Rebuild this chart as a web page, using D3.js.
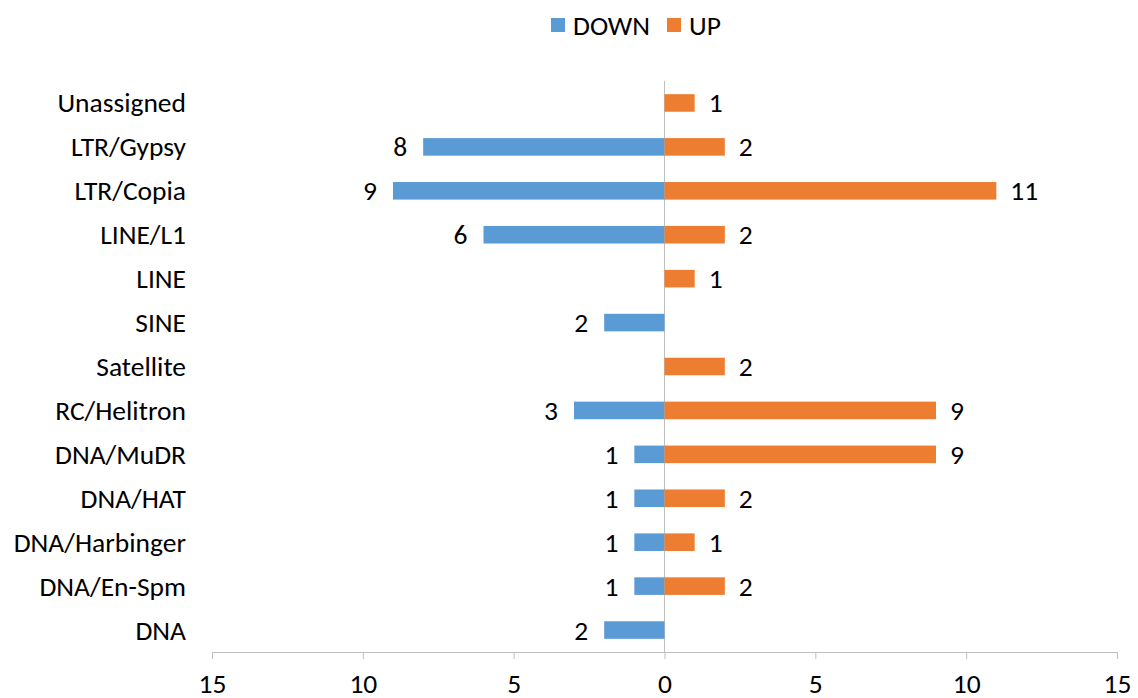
<!DOCTYPE html>
<html>
<head>
<meta charset="utf-8">
<script src="https://cdn.jsdelivr.net/npm/d3@7"></script>
<style>
  body { margin: 0; background: #fff; }
  text { font-family: Calibri, Carlito, Lato, "Noto Sans", sans-serif; fill: #000; }
</style>
</head>
<body>
<svg id="chart" width="1138" height="698"></svg>
<script>
// Repeat families, top to bottom
const categories = ["Unassigned", "LTR/Gypsy", "LTR/Copia", "LINE/L1", "LINE", "SINE",
  "Satellite", "RC/Helitron", "DNA/MuDR", "DNA/HAT", "DNA/Harbinger", "DNA/En-Spm", "DNA"];
// Counts per family (null = no bar)
const downValues = [null, 8, 9, 6, null, 2, null, 3, 1, 1, 1, 1, 2];
const upValues   = [1, 2, 11, 2, 1, null, 2, 9, 9, 2, 1, 2, null];
const seriesNames = ["DOWN", "UP"];
const xTicks = [-15, -10, -5, 0, 5, 10, 15];

const colors = { DOWN: "#5B9BD5", UP: "#ED7D31" };
const svg = d3.select("#chart");
const fontSize = 27.5;
const fontFamily = 'Calibri, Carlito, Lato, "Noto Sans", sans-serif';

const x = d3.scaleLinear().domain([-15, 15]).range([212, 1117]);
const y = d3.scaleBand().domain(categories).range([81, 652]).paddingInner(0.6).paddingOuter(0.3);

// Zero line
svg.append("line")
  .attr("x1", x(0)).attr("x2", x(0))
  .attr("y1", 81).attr("y2", 652)
  .attr("stroke", "#bfbfbf").attr("stroke-width", 1);

// Bottom axis
const axis = svg.append("g").attr("transform", "translate(0,652)")
  .call(d3.axisBottom(x).tickValues(xTicks).tickSize(7).tickFormat(d => Math.abs(d)));
axis.select(".domain").attr("stroke", "#bfbfbf");
axis.selectAll(".tick line").attr("stroke", "#bfbfbf");
axis.selectAll(".tick text").attr("font-size", fontSize).attr("y", 31).attr("dy", null)
  .attr("dominant-baseline", "central").style("font-family", fontFamily);

// Category labels
svg.append("g").selectAll("text").data(categories).join("text")
  .attr("x", 186).attr("y", d => y(d) + y.bandwidth() / 2)
  .attr("text-anchor", "end").attr("dominant-baseline", "central")
  .attr("font-size", fontSize).text(d => d);

const downData = categories.map((c, i) => ({ c, v: downValues[i] })).filter(d => d.v != null);
const upData = categories.map((c, i) => ({ c, v: upValues[i] })).filter(d => d.v != null);

// DOWN bars extend left of zero
svg.append("g").selectAll("rect").data(downData).join("rect")
  .attr("x", d => x(-d.v)).attr("width", d => x(0) - x(-d.v))
  .attr("y", d => y(d.c)).attr("height", y.bandwidth())
  .attr("fill", colors.DOWN);
svg.append("g").selectAll("text").data(downData).join("text")
  .attr("x", d => x(-d.v) - 16).attr("y", d => y(d.c) + y.bandwidth() / 2)
  .attr("text-anchor", "end").attr("dominant-baseline", "central")
  .attr("font-size", fontSize).text(d => d.v);

// UP bars extend right of zero
svg.append("g").selectAll("rect").data(upData).join("rect")
  .attr("x", x(0)).attr("width", d => x(d.v) - x(0))
  .attr("y", d => y(d.c)).attr("height", y.bandwidth())
  .attr("fill", colors.UP);
svg.append("g").selectAll("text").data(upData).join("text")
  .attr("x", d => x(d.v) + 14).attr("y", d => y(d.c) + y.bandwidth() / 2)
  .attr("text-anchor", "start").attr("dominant-baseline", "central")
  .attr("font-size", fontSize).text(d => d.v);

// Legend
const legendX = [551, 667];
const legend = svg.append("g").selectAll("g").data(seriesNames).join("g")
  .attr("transform", (d, i) => `translate(${legendX[i]},18)`);
legend.append("rect").attr("width", 14).attr("height", 14).attr("fill", d => colors[d]);
legend.append("text").attr("x", 22).attr("y", 7).attr("dominant-baseline", "central")
  .attr("font-size", fontSize).text(d => d);
</script>
</body>
</html>
